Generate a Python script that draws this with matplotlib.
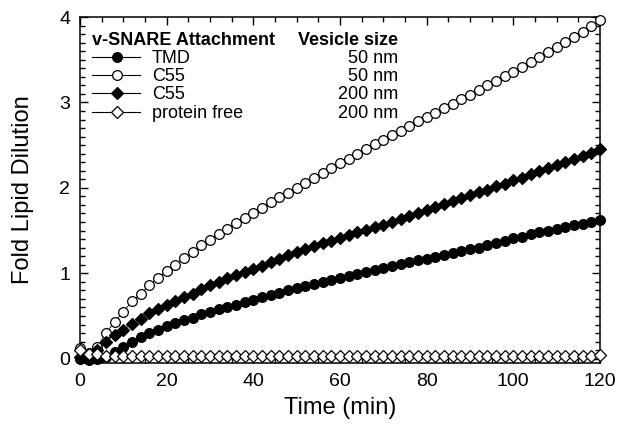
import matplotlib
matplotlib.use('Agg')
import matplotlib.pyplot as plt
from matplotlib.ticker import MultipleLocator

plt.rcParams['font.family'] = ['Liberation Sans', 'DejaVu Sans']

# time points (min), every 2 min
t = list(range(0, 121, 2))

tmd_50 = [0.00, -0.01, 0.00, 0.02, 0.08, 0.14, 0.20, 0.25, 0.30, 0.34,
          0.38, 0.42, 0.45, 0.48, 0.52, 0.55, 0.58, 0.61, 0.63, 0.66,
          0.69, 0.72, 0.75, 0.77, 0.80, 0.83, 0.85, 0.87, 0.90, 0.92,
          0.94, 0.97, 0.99, 1.01, 1.04, 1.06, 1.08, 1.11, 1.13, 1.15,
          1.17, 1.19, 1.21, 1.24, 1.26, 1.28, 1.30, 1.33, 1.35, 1.38,
          1.41, 1.43, 1.46, 1.48, 1.50, 1.52, 1.54, 1.56, 1.58, 1.60,
          1.62]

c55_50 = [0.12, 0.07, 0.14, 0.30, 0.43, 0.55, 0.67, 0.76, 0.86, 0.94,
          1.03, 1.10, 1.18, 1.25, 1.33, 1.39, 1.46, 1.52, 1.59, 1.65,
          1.71, 1.77, 1.83, 1.89, 1.94, 2.00, 2.06, 2.12, 2.17, 2.23,
          2.29, 2.34, 2.40, 2.45, 2.51, 2.56, 2.62, 2.67, 2.72, 2.78,
          2.83, 2.88, 2.93, 2.98, 3.04, 3.09, 3.14, 3.20, 3.25, 3.31,
          3.36, 3.42, 3.47, 3.53, 3.59, 3.65, 3.71, 3.77, 3.83, 3.89,
          3.96]

c55_200 = [0.02, 0.01, 0.10, 0.20, 0.28, 0.34, 0.41, 0.47, 0.53, 0.58,
           0.63, 0.67, 0.72, 0.76, 0.82, 0.86, 0.90, 0.94, 0.98, 1.01,
           1.05, 1.09, 1.13, 1.17, 1.21, 1.25, 1.29, 1.32, 1.35, 1.38,
           1.41, 1.45, 1.48, 1.51, 1.54, 1.57, 1.60, 1.64, 1.67, 1.71,
           1.74, 1.78, 1.81, 1.85, 1.88, 1.92, 1.95, 1.98, 2.02, 2.05,
           2.09, 2.12, 2.16, 2.20, 2.23, 2.27, 2.30, 2.34, 2.37, 2.41,
           2.45]

free_200 = [0.10, 0.06, 0.05, 0.03, 0.03, 0.03, 0.03, 0.03, 0.03, 0.03,
            0.03, 0.03, 0.03, 0.03, 0.03, 0.03, 0.03, 0.03, 0.03, 0.03,
            0.03, 0.03, 0.03, 0.03, 0.03, 0.03, 0.03, 0.03, 0.03, 0.03,
            0.03, 0.03, 0.03, 0.03, 0.03, 0.03, 0.03, 0.03, 0.03, 0.03,
            0.03, 0.03, 0.03, 0.03, 0.03, 0.03, 0.03, 0.03, 0.03, 0.03,
            0.03, 0.03, 0.03, 0.03, 0.03, 0.03, 0.03, 0.03, 0.03, 0.03,
            0.04]

labels = ['TMD', 'C55', 'C55', 'protein free']
sizes = ['50 nm', '50 nm', '200 nm', '200 nm']

fig = plt.figure(figsize=(6.18, 4.26), dpi=100)
ax = fig.add_axes([0.1294, 0.148, 0.8414, 0.812])

# (values, marker, face colour, marker size) in legend order
styles = [
    (tmd_50, 'o', 'black', 7.0),
    (c55_50, 'o', 'white', 7.0),
    (c55_200, 'D', 'black', 6.2),
    (free_200, 'D', 'white', 6.2),
]
for y, m, fc, ms in [styles[1], styles[2], styles[0], styles[3]]:
    ax.plot(t, y, marker=m, color='black', mfc=fc, mec='black',
            ms=ms, mew=0.9, lw=0.6, clip_on=False, zorder=3)

ax.set_xlim(0, 120)
ax.set_ylim(-0.05, 4)
ax.xaxis.set_major_locator(MultipleLocator(20))
ax.xaxis.set_minor_locator(MultipleLocator(5))
ax.yaxis.set_major_locator(MultipleLocator(1))
ax.yaxis.set_minor_locator(MultipleLocator(0.1))
ax.tick_params(which='both', direction='in', top=True, right=True,
               width=1.0, labelsize=14, pad=7)
ax.tick_params(which='major', length=6)
ax.tick_params(which='minor', length=3.5)
for s in ax.spines.values():
    s.set_linewidth(1.1)

ax.set_xlabel('Time (min)', fontsize=17, labelpad=5)
ax.set_ylabel('Fold Lipid Dilution', fontsize=17, labelpad=18)

# hand-made legend (axes fraction coordinates)
def fx(px):
    return (px - 80) / 520

def fy(px):
    return (363 - px) / 346

ax.text(fx(92), fy(40), 'v-SNARE Attachment', fontsize=13, fontweight='bold',
        ha='left', va='center', transform=ax.transAxes)
ax.text(fx(398), fy(40), 'Vesicle size', fontsize=13, fontweight='bold',
        ha='right', va='center', transform=ax.transAxes)
rows = [57, 75, 93, 112]
for (y, m, fc, ms), lab, sz, ry in zip(styles, labels, sizes, rows):
    ax.plot([fx(92), fx(140)], [fy(ry), fy(ry)], color='black', lw=0.8,
            transform=ax.transAxes)
    ax.plot([fx(117)], [fy(ry)], marker=m, mfc=fc, mec='black', ms=ms,
            mew=0.9, transform=ax.transAxes)
    ax.text(fx(152), fy(ry + 1), lab, fontsize=13, ha='left', va='center',
            transform=ax.transAxes)
    ax.text(fx(398), fy(ry + 1), sz, fontsize=13, ha='right', va='center',
            transform=ax.transAxes)

fig.savefig('out.png', dpi=100)
